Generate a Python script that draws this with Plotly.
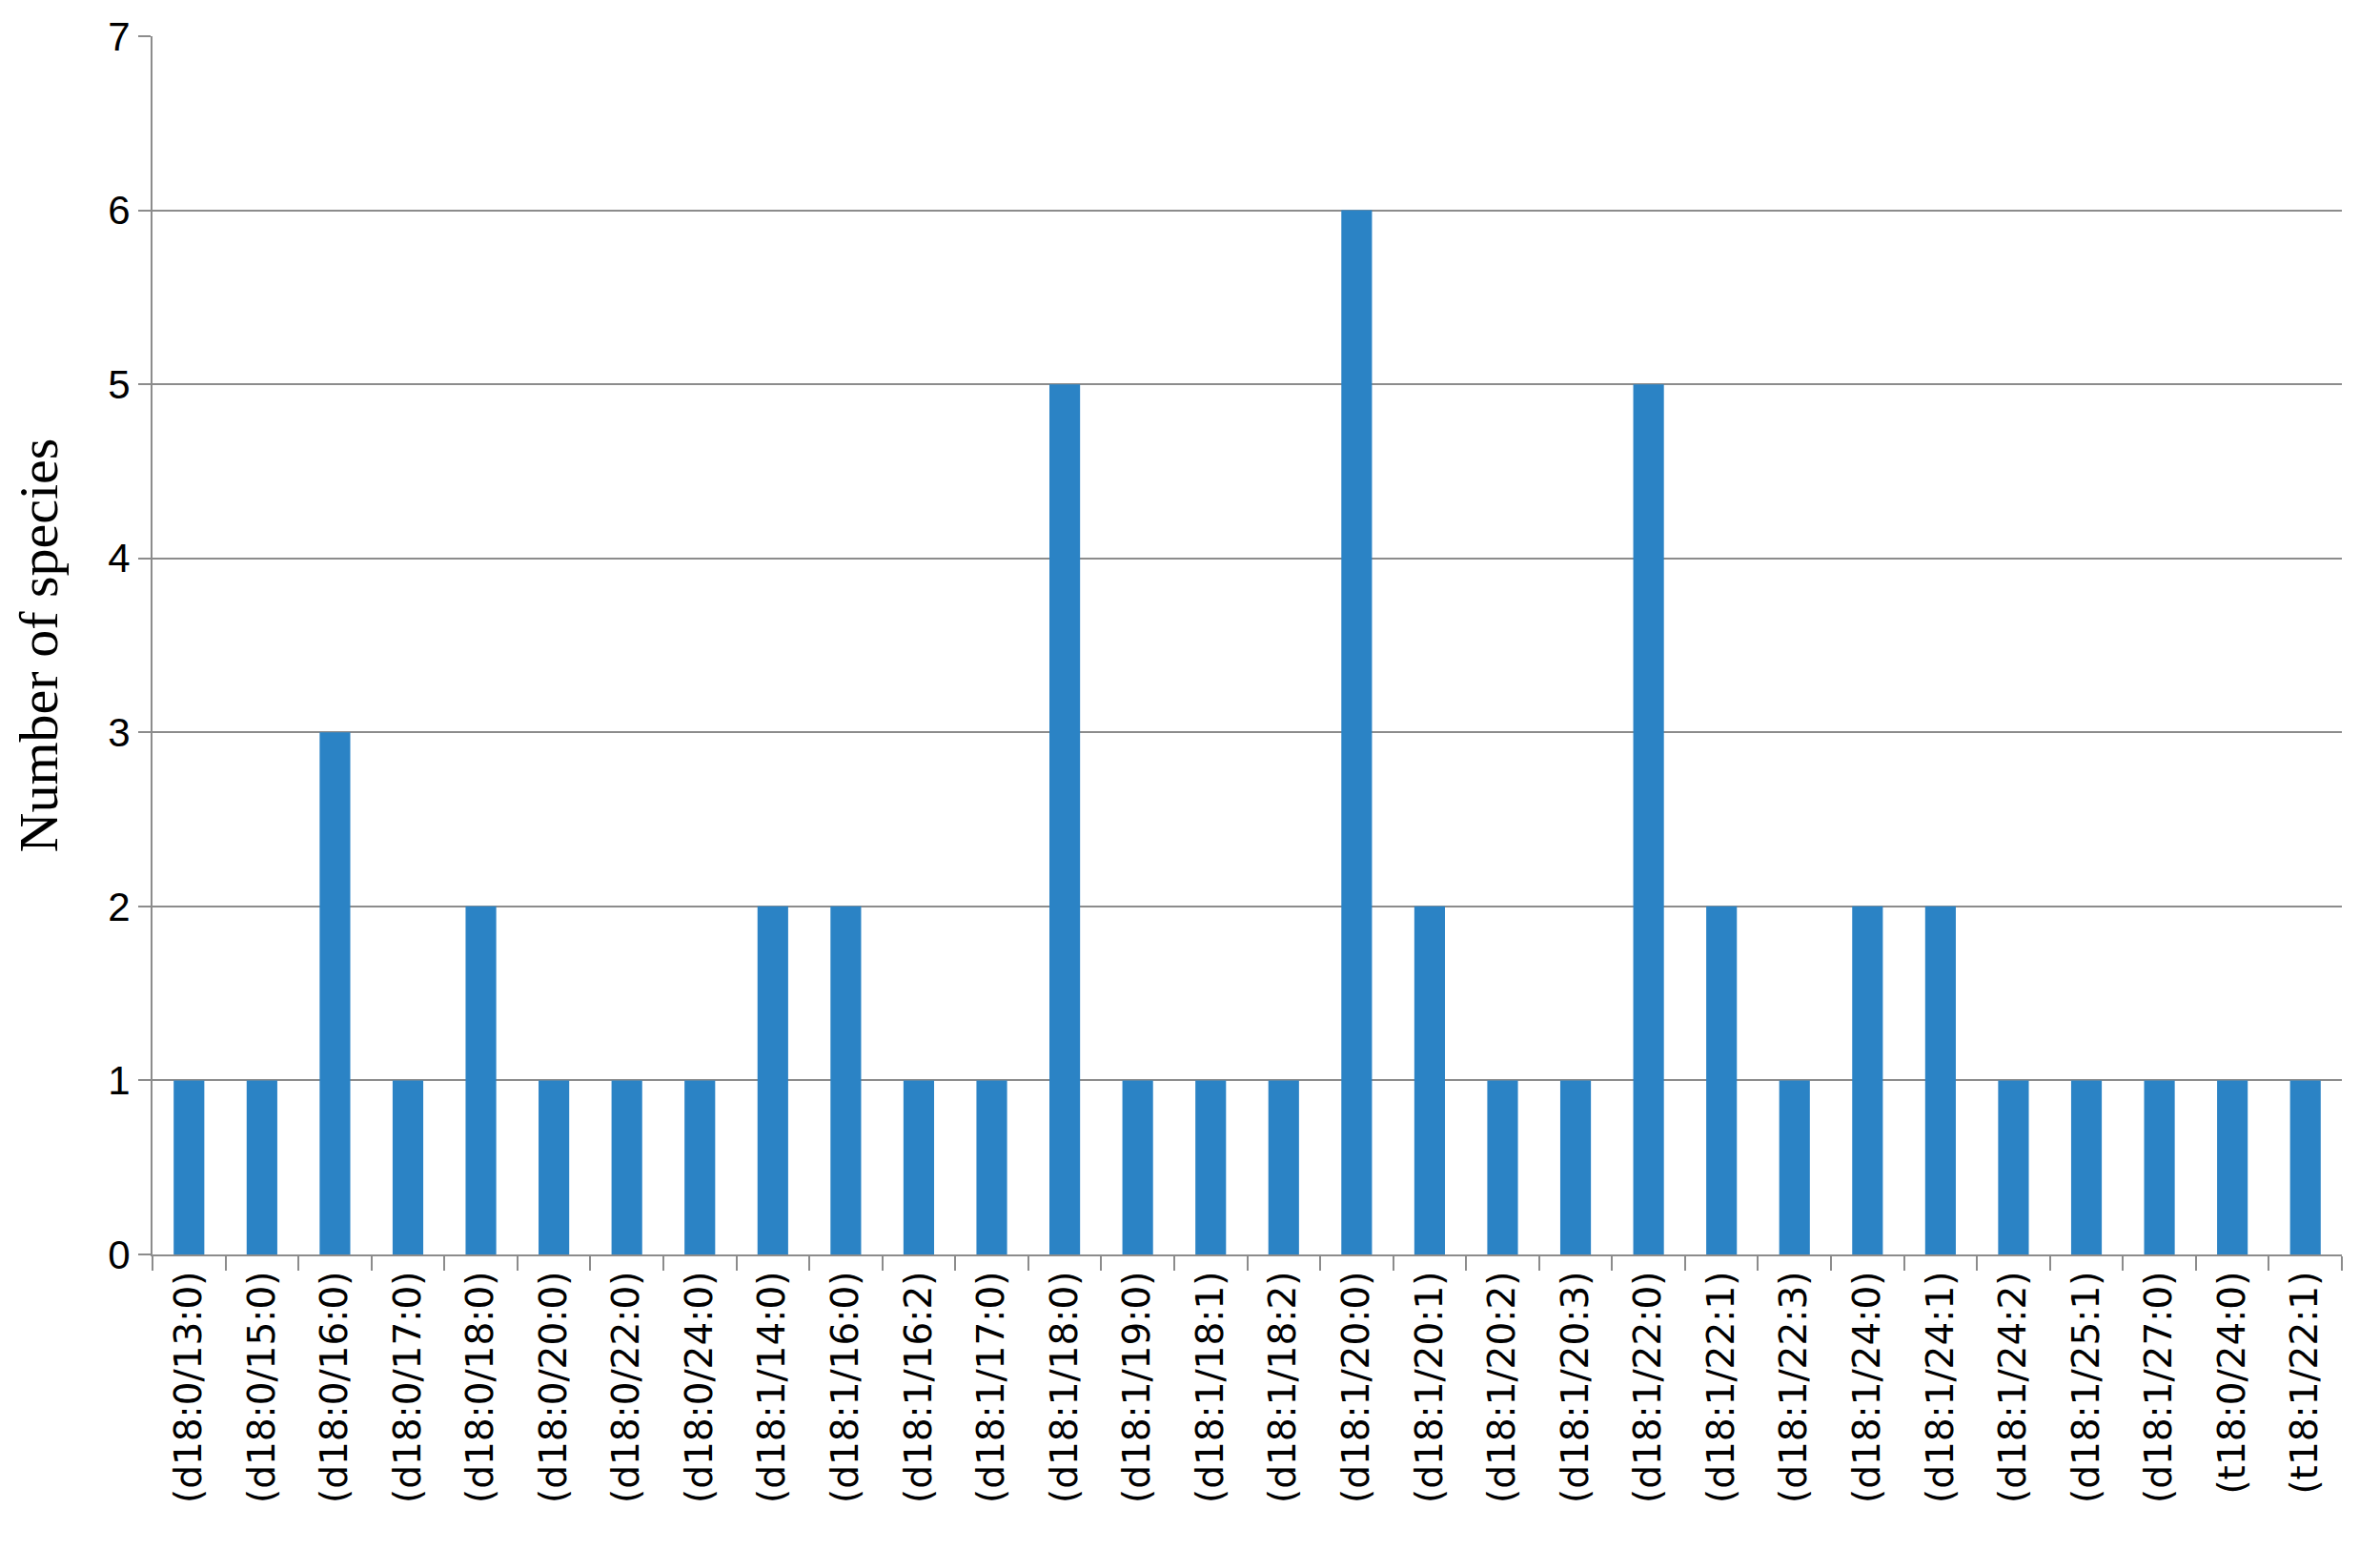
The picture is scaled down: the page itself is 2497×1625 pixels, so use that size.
import plotly.graph_objects as go

# Sphingolipid species (category labels) and counts per species
species = [
    "(d18:0/13:0)", "(d18:0/15:0)", "(d18:0/16:0)", "(d18:0/17:0)", "(d18:0/18:0)",
    "(d18:0/20:0)", "(d18:0/22:0)", "(d18:0/24:0)", "(d18:1/14:0)", "(d18:1/16:0)",
    "(d18:1/16:2)", "(d18:1/17:0)", "(d18:1/18:0)", "(d18:1/19:0)", "(d18:1/18:1)",
    "(d18:1/18:2)", "(d18:1/20:0)", "(d18:1/20:1)", "(d18:1/20:2)", "(d18:1/20:3)",
    "(d18:1/22:0)", "(d18:1/22:1)", "(d18:1/22:3)", "(d18:1/24:0)", "(d18:1/24:1)",
    "(d18:1/24:2)", "(d18:1/25:1)", "(d18:1/27:0)", "(t18:0/24:0)", "(t18:1/22:1)",
]
counts = [1, 1, 3, 1, 2, 1, 1, 1, 2, 2,
          1, 1, 5, 1, 1, 1, 6, 2, 1, 1,
          5, 2, 1, 2, 2, 1, 1, 1, 1, 1]

y_ticks = [0, 1, 2, 3, 4, 5, 6, 7]

BAR = "#2B83C5"
GRID = "#8C8C8C"

fig = go.Figure(go.Bar(
    x=species,
    y=counts,
    marker=dict(color=BAR, line=dict(width=0)),
))

# page body adds an 8px margin, so the figure is 16px smaller than the window
fig.update_layout(
    width=2481,
    height=1609,
    margin=dict(l=152, r=32, t=30, b=301),
    paper_bgcolor="white",
    plot_bgcolor="white",
    bargap=0.58,
    showlegend=False,
)

fig.update_xaxes(
    type="category",
    tickangle=-90,
    tickfont=dict(family="DejaVu Sans", size=39, color="black"),
    ticks="outside",
    ticklen=15,
    tickwidth=2,
    tickcolor=GRID,
    tickson="boundaries",
    showline=True,
    linecolor=GRID,
    linewidth=2,
    showgrid=False,
    automargin=False,
)

fig.update_yaxes(
    range=[0, 7],
    tickvals=y_ticks,
    tickfont=dict(family="Liberation Sans", size=42, color="black"),
    ticks="outside",
    ticklen=13,
    tickwidth=2,
    tickcolor=GRID,
    showline=True,
    linecolor=GRID,
    linewidth=2,
    showgrid=True,
    gridcolor=GRID,
    gridwidth=2,
    zeroline=False,
    automargin=False,
    title=dict(
        text="Number of species",
        font=dict(family="Liberation Serif", size=58, color="black"),
        standoff=42,
    ),
)

fig.write_html("out.html")
